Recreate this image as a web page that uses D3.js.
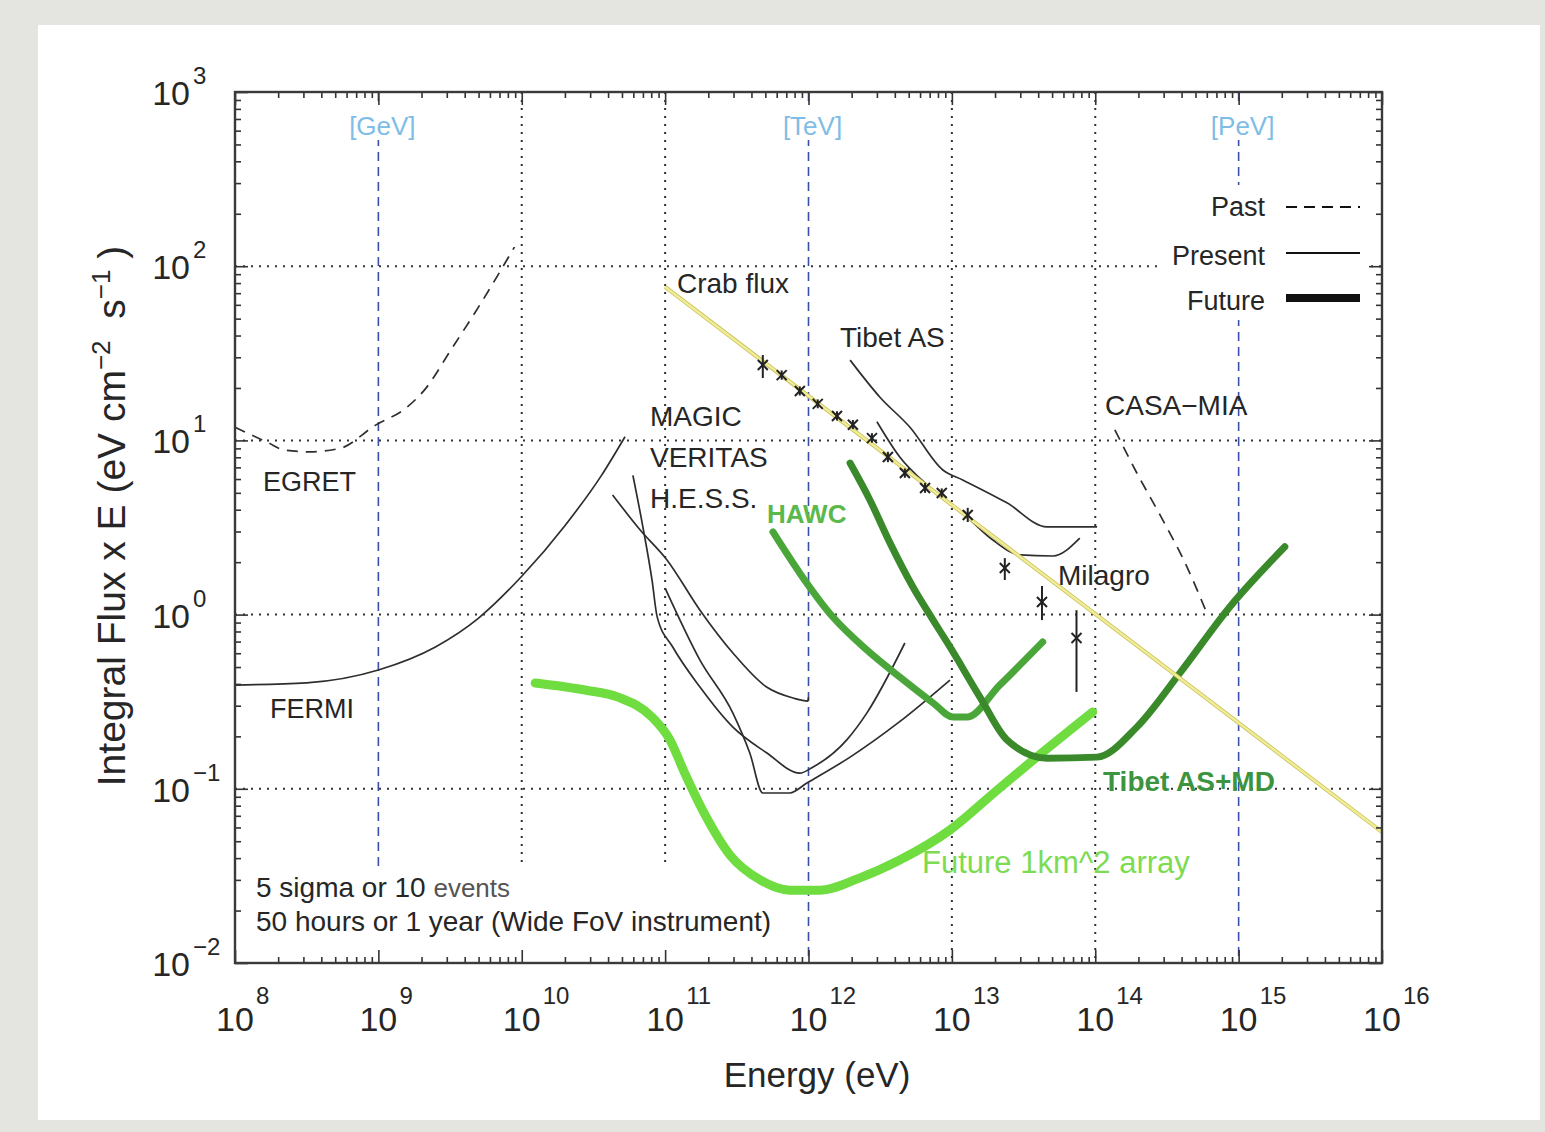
<!DOCTYPE html>
<html>
<head>
<meta charset="utf-8">
<script src="https://cdn.jsdelivr.net/npm/d3@7"></script>
<style>
  body { margin: 0; background: #e4e4e1; }
  text { font-family: "Liberation Sans", Arial, Helvetica, sans-serif; fill: #262626; }
</style>
</head>
<body>
<svg id="chart" width="1545" height="1132"></svg>
<script>
// ---- sensitivity curves: [energy (eV), integral flux x E (eV cm^-2 s^-1)] ----
const egret = [[1.0e8, 11.9], [1.7e8, 9.7], [2.2e8, 8.8], [3.3e8, 8.6], [5.4e8, 9.0], [9.5e8, 12.2],
  [1.55e9, 15.3], [2.1e9, 19.5], [3.2e9, 33], [5.2e9, 61.5], [8.9e9, 129]];
const fermi = [[1.0e8, 0.394], [3.16e8, 0.406], [1.0e9, 0.481], [2.5e9, 0.652], [5.0e9, 0.955],
  [1.0e10, 1.66], [2.0e10, 3.24], [3.6e10, 6.3], [5.25e10, 10.5]];
const iactA = [[4.3e10, 4.86], [6.7e10, 3.06], [1.03e11, 2.06], [1.75e11, 1.06], [2.97e11, 0.602],
  [5.1e11, 0.384], [7.8e11, 0.332], [9.9e11, 0.319], [1.0e12, 0.335]];
const iactB = [[5.96e10, 6.3], [7.0e10, 3.18], [8.1e10, 1.58], [8.8e10, 0.97], [1.13e11, 0.652],
  [1.75e11, 0.384], [2.97e11, 0.226], [5.1e11, 0.161], [8.7e11, 0.123], [1.07e12, 0.133],
  [1.85e12, 0.191], [2.55e12, 0.272], [4.7e12, 0.687]];
const iactC = [[1.0e11, 1.42], [1.75e11, 0.548], [2.97e11, 0.272], [3.9e11, 0.160], [4.8e11, 0.0946],
  [7.4e11, 0.0946], [9.75e11, 0.108], [1.95e12, 0.152], [4.3e12, 0.242], [9.7e12, 0.421]];
const tibetAS = [[1.95e12, 28.9], [3.15e12, 17.7], [5.1e12, 11.9], [8.65e12, 6.76], [1.19e13, 5.93],
  [2.42e13, 4.38], [4.6e13, 3.19], [1.03e14, 3.19]];
const milagro = [[3.0e12, 12.8], [4.33e12, 8.03], [7.0e12, 5.40], [1.19e13, 3.83], [1.93e13, 2.68],
  [2.98e13, 2.20], [5.06e13, 2.17], [7.8e13, 2.75]];
const casaMia = [[1.37e14, 11.5], [1.95e14, 6.50], [2.96e14, 3.49], [4.36e14, 1.88], [6.0e14, 1.02]];
const hawc = [[5.65e11, 2.98], [8.7e11, 1.73], [1.48e12, 0.968], [2.55e12, 0.627], [4.33e12, 0.438],
  [7.4e12, 0.311], [1.02e13, 0.258], [1.27e13, 0.258], [2.16e13, 0.394], [4.3e13, 0.697]];
const tibetASMD = [[1.95e12, 7.41], [2.68e12, 4.55], [3.7e12, 2.58], [5.35e12, 1.44], [7.4e12, 0.93],
  [9.7e12, 0.652], [1.57e13, 0.336], [2.42e13, 0.191], [4.6e13, 0.150], [1.03e14, 0.152],
  [1.95e14, 0.226], [3.9e14, 0.463], [8.7e14, 1.11], [2.1e15, 2.45]];
const future1km = [[1.24e10, 0.405], [2.76e10, 0.369], [4.7e10, 0.336], [8.1e10, 0.258], [1.08e11, 0.191],
  [1.37e11, 0.123], [1.9e11, 0.0708], [2.83e11, 0.0417], [4.6e11, 0.030], [7.4e11, 0.0262],
  [1.2e12, 0.0262], [2.28e12, 0.0308], [4.33e12, 0.039], [9.7e12, 0.058], [2.06e13, 0.098],
  [3.5e13, 0.141], [9.6e13, 0.276]];

// Crab Nebula integral flux (power law) and measured points [E, flux, low, high]
const crabFlux = [[1e11, 76], [1e16, 0.0565]];
const crabPoints = [[4.8e11, 27.1, 22.8, 30.9], [6.5e11, 23.7, 22.3, 25.2], [8.7e11, 19.2, 18.1, 20.4],
  [1.16e12, 16.2, 15.3, 17.2], [1.58e12, 13.8, 13.0, 14.7], [2.04e12, 12.3, 11.6, 13.1],
  [2.77e12, 10.3, 9.7, 11.0], [3.58e12, 8.03, 7.5, 8.6], [4.7e12, 6.50, 6.1, 6.9],
  [6.5e12, 5.33, 5.0, 5.7], [8.5e12, 4.99, 4.7, 5.3], [1.29e13, 3.73, 3.4, 4.1],
  [2.34e13, 1.85, 1.58, 2.11], [4.25e13, 1.18, 0.93, 1.46], [7.4e13, 0.734, 0.36, 1.06]];

// axis decades and reference energies
const xDecades = [8, 9, 10, 11, 12, 13, 14, 15, 16];
const yDecades = [-2, -1, 0, 1, 2, 3];
const unitLines = [[1e9, "[GeV]"], [1e12, "[TeV]"], [1e15, "[PeV]"]];
const dottedX = [1e10, 1e11, 1e13, 1e14];
const dottedY = [1e-1, 1e0, 1e1, 1e2];

const svg = d3.select("#chart");
svg.append("rect").attr("width", 1545).attr("height", 1132).attr("fill", "#e4e4e1");
svg.append("rect").attr("x", 38).attr("y", 25).attr("width", 1502).attr("height", 1095).attr("fill", "#fff");

const x = d3.scaleLog().domain([1e8, 1e16]).range([235, 1382]);
const y = d3.scaleLog().domain([1e-2, 1e3]).range([963, 92]);
const [x0, x1] = x.range(), [y0, y1] = y.range();

// ---- grid ----
const grid = svg.append("g");
grid.selectAll(".gx").data(dottedX).join("line")
  .attr("x1", d => x(d)).attr("x2", d => x(d)).attr("y1", y1).attr("y2", y0)
  .attr("stroke", "#333").attr("stroke-width", 2).attr("stroke-dasharray", "2,6");
grid.selectAll(".gy").data(dottedY).join("line")
  .attr("x1", x0).attr("x2", x1).attr("y1", d => y(d)).attr("y2", d => y(d))
  .attr("stroke", "#333").attr("stroke-width", 2).attr("stroke-dasharray", "2,6");
grid.selectAll(".gb").data(unitLines).join("line")
  .attr("x1", d => x(d[0])).attr("x2", d => x(d[0])).attr("y1", y1).attr("y2", y0)
  .attr("stroke", "#3b4fa8").attr("stroke-width", 1.6).attr("stroke-dasharray", "9,6");

// key boxes that mask the grid
svg.append("rect").attr("x", 1160).attr("y", 185).attr("width", 208).attr("height", 135).attr("fill", "#fff");
svg.append("rect").attr("x", 238).attr("y", 868).attr("width", 548).attr("height", 90).attr("fill", "#fff");
unitLines.forEach(([e, lbl]) => {
  svg.append("rect").attr("x", x(e) - 38).attr("y", 106).attr("width", 80).attr("height", 34).attr("fill", "#fff");
  svg.append("text").attr("x", x(e) + 4).attr("y", 135).attr("text-anchor", "middle")
    .attr("font-size", 26).style("fill", "#80bde6").text(lbl);
});

// ---- curves ----
const line = d3.line().x(d => x(d[0])).y(d => y(d[1])).curve(d3.curveMonotoneX);
const thin = (data, dash) => svg.append("path").datum(data).attr("d", line)
  .attr("fill", "none").attr("stroke", "#2e2e2e").attr("stroke-width", 1.7)
  .attr("stroke-dasharray", dash || null).attr("stroke-linejoin", "round");
thin(egret, "11,8");
thin(casaMia, "11,8");
thin(fermi); thin(iactA); thin(iactB); thin(iactC); thin(tibetAS); thin(milagro);

const thick = (data, color, w) => svg.append("path").datum(data).attr("d", line)
  .attr("fill", "none").attr("stroke", color).attr("stroke-width", w)
  .attr("stroke-linejoin", "round").attr("stroke-linecap", "round");
thick(future1km, "#6fdc40", 9);
thick(hawc, "#4ba63a", 7);
thick(tibetASMD, "#3a8a2c", 7);

// Crab flux
const straight = d3.line().x(d => x(d[0])).y(d => y(d[1]));
svg.append("path").datum(crabFlux).attr("d", straight)
  .attr("fill", "none").attr("stroke", "#c9c25a").attr("stroke-width", 4);
svg.append("path").datum(crabFlux).attr("d", straight)
  .attr("fill", "none").attr("stroke", "#f1ec98").attr("stroke-width", 2.4);

const pts = svg.append("g").attr("stroke", "#222").attr("stroke-width", 2);
crabPoints.forEach(([e, f, lo, hi]) => {
  const cx = x(e), cy = y(f);
  pts.append("line").attr("x1", cx).attr("x2", cx).attr("y1", y(lo)).attr("y2", y(hi));
  pts.append("line").attr("x1", cx - 5).attr("x2", cx + 5).attr("y1", cy - 5).attr("y2", cy + 5);
  pts.append("line").attr("x1", cx - 5).attr("x2", cx + 5).attr("y1", cy + 5).attr("y2", cy - 5);
});

// ---- axes frame and ticks ----
const minorX = [], majorX = xDecades.map(n => Math.pow(10, n));
xDecades.slice(0, -1).forEach(n => { for (let k = 2; k <= 9; k++) minorX.push(k * Math.pow(10, n)); });
const minorY = [], majorY = yDecades.map(n => Math.pow(10, n));
yDecades.slice(0, -1).forEach(n => { for (let k = 2; k <= 9; k++) minorY.push(k * Math.pow(10, n)); });

const ax = (gen, scale, vals, size, tx, ty) => {
  const g = svg.append("g").attr("transform", `translate(${tx},${ty})`)
    .call(gen(scale).tickValues(vals).tickSize(size).tickFormat(""));
  g.select(".domain").remove();
  g.selectAll("line").attr("stroke", "#333").attr("stroke-width", 1.6);
};
ax(d3.axisBottom, x, minorX, -6, 0, y0); ax(d3.axisBottom, x, majorX, -13, 0, y0);
ax(d3.axisTop, x, minorX, -6, 0, y1); ax(d3.axisTop, x, majorX, -13, 0, y1);
ax(d3.axisLeft, y, minorY, -6, x0, 0); ax(d3.axisLeft, y, majorY, -13, x0, 0);
ax(d3.axisRight, y, minorY, -6, x1, 0); ax(d3.axisRight, y, majorY, -13, x1, 0);
svg.append("rect").attr("x", x0).attr("y", y1).attr("width", x1 - x0).attr("height", y0 - y1)
  .attr("fill", "none").attr("stroke", "#3a3a3a").attr("stroke-width", 2.4);

// tick labels
xDecades.forEach(n => {
  const px = x(Math.pow(10, n));
  svg.append("text").attr("x", px).attr("y", 1031).attr("text-anchor", "middle").attr("font-size", 34).text("10");
  svg.append("text").attr("x", px + 21).attr("y", 1004).attr("font-size", 24).text(String(n));
});
yDecades.forEach(n => {
  const py = y(Math.pow(10, n));
  svg.append("text").attr("x", 190).attr("y", py + 13).attr("text-anchor", "end").attr("font-size", 34).text("10");
  svg.append("text").attr("x", 193).attr("y", py - 8).attr("font-size", 24).text(n < 0 ? "\u2212" + (-n) : String(n));
});

// axis titles
svg.append("text").attr("x", 817).attr("y", 1087).attr("text-anchor", "middle").attr("font-size", 35).text("Energy (eV)");
const yt = svg.append("text").attr("transform", "translate(125,516) rotate(-90)")
  .attr("text-anchor", "middle").attr("font-size", 39);
yt.append("tspan").text("Integral Flux x E (eV cm");
yt.append("tspan").attr("dy", -15).attr("font-size", 26).text("\u22122");
yt.append("tspan").attr("dy", 15).text("\u00a0\u00a0s");
yt.append("tspan").attr("dy", -15).attr("font-size", 26).text("\u22121");
yt.append("tspan").attr("dy", 15).text("\u00a0)");

// ---- legend ----
const leg = [["Past", 216, 207, "11,7", 2], ["Present", 265, 253, null, 1.8], ["Future", 310, 298, null, 8]];
leg.forEach(([lbl, ty, ly, dash, w]) => {
  svg.append("text").attr("x", 1265).attr("y", ty).attr("text-anchor", "end").attr("font-size", 27).text(lbl);
  svg.append("line").attr("x1", 1286).attr("x2", 1360).attr("y1", ly).attr("y2", ly)
    .attr("stroke", "#111").attr("stroke-width", w).attr("stroke-dasharray", dash);
});

// ---- curve labels ----
const label = (t, lx, ly, opts = {}) => svg.append("text").attr("x", lx).attr("y", ly)
  .attr("font-size", opts.size || 28).attr("font-weight", opts.bold ? "bold" : null)
  .style("fill", opts.color || "#262626").text(t);
label("Crab flux", 677, 293);
label("EGRET", 263, 491, { size: 27 });
label("FERMI", 270, 718, { size: 27 });
label("MAGIC", 650, 426);
label("VERITAS", 650, 467);
label("H.E.S.S.", 650, 508);
label("HAWC", 767, 523, { bold: true, color: "#5bb84a", size: 26 });
label("Tibet AS", 840, 347);
label("CASA\u2212MIA", 1105, 415);
label("Milagro", 1058, 585);
label("Tibet AS+MD", 1103, 791, { bold: true, color: "#3d9440", size: 28 });
label("Future 1km^2 array", 922, 873, { color: "#7cdb52", size: 31 });
const note = svg.append("text").attr("x", 256).attr("y", 897).attr("font-size", 28);
note.append("tspan").text("5 sigma or 10 ");
note.append("tspan").attr("font-size", 26).style("fill", "#555").text("events");
label("50 hours or 1 year (Wide FoV instrument)", 256, 931, { size: 28 });
</script>
</body>
</html>
